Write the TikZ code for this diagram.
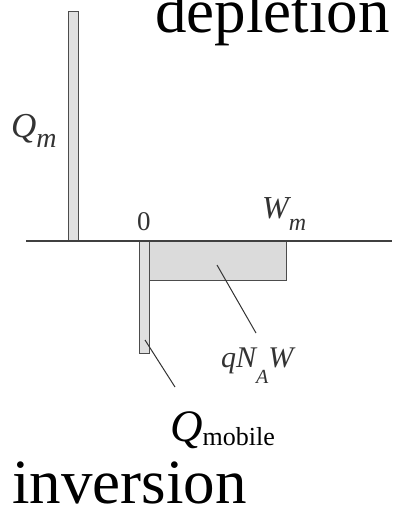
\documentclass[tikz,border=0pt]{standalone}
\usepackage{fontspec}
\setmainfont{Liberation Serif}
\usetikzlibrary{positioning}

\newcommand{\lowsub}[3]{\raisebox{-#1}{\fontsize{#2}{#2}\selectfont #3}}

\begin{document}
\begin{tikzpicture}[
    x=1pt, y=-1pt,
    bigword/.style={font=\fontsize{63}{63}\selectfont, inner sep=0pt, anchor=base west},
    chglabel/.style={font=\fontsize{30}{30}\selectfont\itshape, inner sep=0pt, anchor=base west, text=black!80},
    bar/.style={draw=black!70, fill=black!12, line width=1.2pt, inner sep=0pt, minimum width=10pt},
    axisline/.style={draw=black!75, line width=1.6pt},
    pointer/.style={draw=black!80, line width=1pt}
]
\useasboundingbox (0,0) rectangle (392,509);

% Charge bars
\node[bar, minimum height=229pt, anchor=south west] (qmbar) at (68,241) {};
\node[bar, minimum height=112pt, anchor=north west] (mobbar) at (139,241) {};
\node[bar, minimum width=137pt, minimum height=39pt, anchor=north west, fill=black!14] (deplbox) at (149,241) {};

% Axis
\coordinate (axl) at (26,241);
\coordinate (axr) at (392,241);
\draw[axisline] (axl) -- (axr);

% Labels
\node[chglabel, font=\fontsize{35}{35}\selectfont\itshape] (qm) at (11,137) {Q\lowsub{10pt}{28}{m}};
\node[chglabel, font=\fontsize{27}{27}\selectfont] (zero) at (137,230) {0};
\node[chglabel, font=\fontsize{32}{32}\selectfont\itshape] (wm) at (262,218) {W\lowsub{12pt}{24}{m}};
\node[chglabel] (qnaw) at (221,367) {qN\lowsub{16pt}{20}{A}W};
\node[chglabel, font=\fontsize{45}{45}\selectfont\itshape, text=black] (qmob) at (170,441) {Q\lowsub{4pt}{26}{\upshape mobile}};

% Pointers
\coordinate (deplin) at (217,265);
\coordinate (nawtip) at (256,333);
\draw[pointer] (deplin) -- (nawtip);
\coordinate (mobin) at (145,340);
\coordinate (mobtip) at (175,387);
\draw[pointer] (mobin) -- (mobtip);

% Region words
\node[bigword] (depl) at (155,32) {depletion};
\node[bigword] (inv) at (12,503) {inversion};

\end{tikzpicture}
\end{document}
